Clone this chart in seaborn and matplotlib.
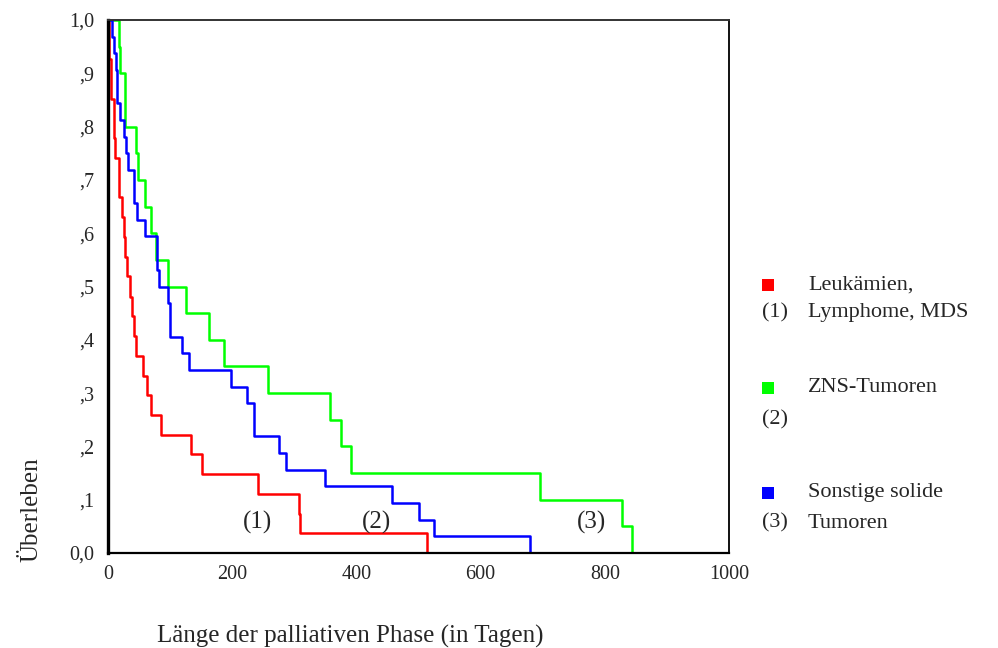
import matplotlib
matplotlib.use("Agg")
import matplotlib.pyplot as plt
import seaborn as sns
import pandas as pd
from matplotlib.patches import Rectangle

# ---- data ----
red_days = [0, 1, 5, 9, 11, 17, 22, 25, 27, 31, 36, 39, 42, 45, 57, 62, 70, 85, 133, 151, 241, 307, 309, 514]
red_surv = [1.0, 0.926, 0.852, 0.778, 0.741, 0.667, 0.630, 0.593, 0.556, 0.519, 0.481, 0.444,
            0.407, 0.370, 0.333, 0.296, 0.259, 0.222, 0.185, 0.148, 0.111, 0.074, 0.037, 0.0]

green_days = [0, 17, 20, 28, 45, 48, 60, 69, 77, 97, 126, 162, 187, 258, 358, 375, 392, 696, 827, 844]
green_surv = [1.0, 0.95, 0.9, 0.8, 0.75, 0.7, 0.65, 0.6, 0.55, 0.5, 0.45, 0.4, 0.35, 0.3,
              0.25, 0.2, 0.15, 0.1, 0.05, 0.0]

blue_days = [0, 6, 10, 13, 15, 20, 26, 29, 32, 42, 46, 60, 79, 82, 97, 100, 119, 131, 198,
             224, 235, 276, 286, 350, 458, 501, 525, 680]
blue_surv = [1.0, 0.969, 0.938, 0.906, 0.844, 0.812, 0.781, 0.75, 0.719, 0.656, 0.625, 0.594,
             0.531, 0.5, 0.469, 0.406, 0.375, 0.344, 0.312, 0.281, 0.219, 0.188, 0.156, 0.125,
             0.094, 0.062, 0.031, 0.0]

groups = ["Leukämien, Lymphome, MDS", "ZNS-Tumoren", "Sonstige solide Tumoren"]
colors = ["#ff0000", "#00ff00", "#0000ff"]

x_ticks = [0, 200, 400, 600, 800, 1000]
y_ticks = [0.0, 0.1, 0.2, 0.3, 0.4, 0.5, 0.6, 0.7, 0.8, 0.9, 1.0]
y_tick_labels = ["0,0", ",1", ",2", ",3", ",4", ",5", ",6", ",7", ",8", ",9", "1,0"]

df = pd.concat([
    pd.DataFrame({"Tage": red_days, "Ueberleben": red_surv, "Gruppe": groups[0]}),
    pd.DataFrame({"Tage": green_days, "Ueberleben": green_surv, "Gruppe": groups[1]}),
    pd.DataFrame({"Tage": blue_days, "Ueberleben": blue_surv, "Gruppe": groups[2]}),
], ignore_index=True)

sns.set_style("white")
plt.rcParams["font.family"] = ["Liberation Serif", "DejaVu Serif"]

fig = plt.figure(figsize=(9.98, 6.48), dpi=100)
W, H = 998, 648
ax = fig.add_axes([108 / W, 1 - 553 / H, (729 - 108) / W, (553 - 20) / H])

sns.lineplot(data=df, x="Tage", y="Ueberleben", hue="Gruppe", hue_order=groups,
             palette=colors, estimator=None, drawstyle="steps-post", linewidth=1.8,
             legend=False, ax=ax)

ax.set_xlim(0, 1000)
ax.set_ylim(0, 1.0)
ax.set_xticks(x_ticks)
ax.set_xticklabels([str(t) for t in x_ticks])
ax.set_yticks(y_ticks)
ax.set_yticklabels(y_tick_labels)
ax.tick_params(axis="both", direction="out", width=1.2, color="black",
               labelsize=14.5)
ax.tick_params(axis="y", length=5.8, pad=4)
ax.tick_params(axis="x", length=4.5, pad=4)
ax.set_xlabel("")
ax.set_ylabel("")

ax.spines["left"].set_linewidth(2.4)
ax.spines["bottom"].set_linewidth(1.6)
ax.spines["top"].set_linewidth(1.4)
ax.spines["right"].set_linewidth(1.4)
ax.spines["left"].set_color("black")
ax.spines["bottom"].set_color("black")
ax.spines["top"].set_color("#333333")
ax.spines["right"].set_color("#111111")
for s in ax.spines.values():
    s.set_visible(True)

# in-plot annotations
ax.text(240, 0.058, "(1)", fontsize=18, ha="center", va="center")
ax.text(432, 0.058, "(2)", fontsize=18, ha="center", va="center")
ax.text(778, 0.058, "(3)", fontsize=18, ha="center", va="center")

# axis labels as figure text
fig.text(350 / W, 1 - 636 / H, "Länge der palliativen Phase (in Tagen)", fontsize=18,
         ha="center", va="center")
fig.text(31 / W, 1 - 510 / H, "Überleben", fontsize=18, rotation=90,
         ha="center", va="center")

# legend built manually
legend_items = [
    (colors[0], 285, "Leukämien,", "(1)", 313, "Lymphome, MDS"),
    (colors[1], 388, "ZNS-Tumoren", "(2)", 420, ""),
    (colors[2], 493, "Sonstige solide", "(3)", 523, "Tumoren"),
]
sq = 12
for col, yc, line1, num, y2, line2 in legend_items:
    fig.add_artist(Rectangle(((768 - sq / 2) / W, 1 - (yc + sq / 2) / H), sq / W, sq / H,
                             transform=fig.transFigure, facecolor=col, edgecolor="none"))
    fig.text(808 / W, 1 - yc / H, line1, fontsize=16, ha="left", va="center")
    fig.text(762 / W, 1 - y2 / H, num, fontsize=16, ha="left", va="center")
    if line2:
        fig.text(808 / W, 1 - y2 / H, line2, fontsize=16, ha="left", va="center")

fig.savefig("out.png", dpi=100, facecolor="white")
